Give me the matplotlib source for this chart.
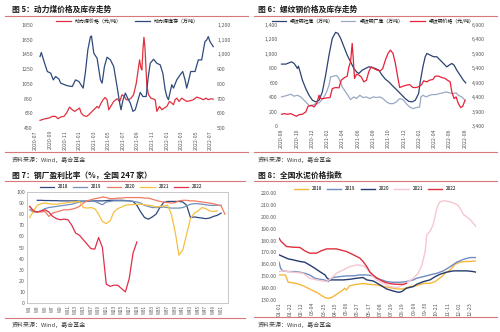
import matplotlib
matplotlib.use('Agg')
import matplotlib.pyplot as plt
from matplotlib.ticker import FuncFormatter
from matplotlib.lines import Line2D

plt.rcParams['font.family'] = ['Noto Sans CJK SC', 'DejaVu Sans']

# ---------------- data: panel 1 (动力煤) ----------------
# time in months since 2020-07
coal_price_t = [0.59,1.14,1.82,2.28,2.73,3.05,3.42,3.87,4.23,4.64,5.01,5.33,5.69,6.01,6.24,6.60,6.97,7.29,7.74,8.20,
                8.42,8.65,8.97,9.24,9.52,9.79,10.02,10.34,10.70,11.16,11.52,11.84,12.16,12.43,12.75,13.07,13.43,13.80,14.12,14.25,
                14.44,14.57,14.71,14.85,14.98,15.12,15.25,15.48,15.80,16.17,16.39,16.62,16.99,17.30,17.62,17.99,18.35,18.67,18.90,19.13,
                19.35,19.67,20.04,20.36,20.72,21.17,21.63,22.09,22.54,23.00,23.36,23.68,24.00,24.36]
coal_price = [554,572,585,608,608,576,599,608,653,734,698,676,698,721,653,617,608,630,676,721,
              743,721,789,834,865,834,698,752,811,847,811,902,879,834,834,856,902,1060,1285,1376,
              1263,1240,1511,1683,1556,1285,1014,902,856,843,834,676,743,698,721,743,811,789,766,834,
              856,811,856,834,811,820,834,870,856,834,856,834,847,843]
coal_stock_t = [0.59,0.77,1.14,1.59,2.05,2.41,2.73,3.19,3.42,4.33,5.01,5.46,5.92,6.51,6.83,7.15,7.51,7.65,7.97,8.42,
                8.88,9.11,9.43,9.79,10.25,10.70,11.16,11.52,11.70,11.98,12.30,12.61,12.98,13.34,13.66,13.98,14.34,14.71,15.16,15.39,
                15.71,16.17,16.62,17.08,17.44,17.76,17.99,18.21,18.67,18.90,19.35,19.81,20.17,20.49,20.72,20.95,21.27,21.86,22.31,22.77,
                23.22,23.45,23.68,23.91,24.36]
coal_stock = [986,1013,952,884,873,827,850,832,805,787,782,827,816,771,884,1031,1121,1125,1008,974,
              827,805,918,981,963,918,782,669,624,692,737,703,669,613,624,681,742,714,714,827,
              940,967,940,929,873,760,714,692,794,771,827,861,884,827,771,816,884,884,963,963,
              1087,1098,1121,1087,1053]
coal_xlabels = ['2020-07','2020-09','2020-11','2021-01','2021-03','2021-05','2021-07',
                '2021-09','2021-11','2022-01','2022-03','2022-05','2022-07']

# ---------------- data: panel 2 (螺纹钢) ----------------
# time in months since 2020-08
rebar_social_t = [0,0.56,1.00,1.30,1.65,1.95,2.08,2.21,2.43,2.73,3.17,3.60,4.04,4.47,4.90,5.34,5.77,6.21,6.64,7.07,
                  7.38,7.73,8.16,8.59,9.03,9.46,9.81,10.11,10.55,10.98,11.41,11.85,12.28,12.72,13.15,13.58,14.02,14.45,14.89,15.32,
                  15.76,16.19,16.62,17.06,17.49,17.93,18.14,18.49,18.79,19.01,19.44,19.88,20.31,20.75,21.18,21.61,21.92,22.27,22.57,22.92,
                  23.35,23.78,24.09]
rebar_social = [858,858,876,890,867,820,797,830,751,635,519,426,357,334,357,473,705,983,1215,1298,
                1284,1215,1099,983,890,797,751,728,774,797,820,811,797,774,705,649,612,565,519,473,
                426,380,343,334,357,450,612,820,960,1006,983,960,960,913,867,820,843,867,843,774,
                705,635,598]
rebar_factory_t = [0,0.35,0.78,1.22,1.65,2.08,2.52,2.95,3.39,3.73,4.04,4.47,4.90,5.21,5.56,5.90,6.21,6.42,6.77,7.20,
                   7.51,7.94,8.38,8.81,9.03,9.46,9.81,10.24,10.68,11.11,11.55,11.98,12.41,12.85,13.28,13.72,14.15,14.58,15.02,15.45,
                   15.89,16.32,16.75,17.19,17.62,18.06,18.23,18.49,18.92,19.36,19.79,20.23,20.66,21.09,21.53,21.96,22.40,22.83,23.13,23.57,
                   24.00]
rebar_factory = [403,413,426,440,413,426,403,357,310,273,287,310,320,357,403,473,565,681,691,700,
                 658,542,473,403,366,403,380,426,394,403,380,403,394,403,380,334,310,310,334,380,
                 366,310,264,241,255,264,403,426,403,426,436,436,450,459,473,459,450,459,426,403,
                 357]
rebar_price_t = [0,0.35,0.78,1.22,1.65,1.95,2.30,2.73,3.17,3.47,3.91,4.25,4.60,4.90,5.12,5.47,5.90,6.34,6.64,7.07,
                 7.51,7.81,8.25,8.59,8.81,9.03,9.24,9.38,9.55,9.81,10.11,10.42,10.76,11.11,11.41,11.72,12.07,12.50,12.93,13.24,
                 13.58,13.93,14.24,14.58,14.89,15.19,15.45,15.89,16.32,16.75,17.19,17.62,18.06,18.36,18.58,19.01,19.36,19.79,20.10,20.53,
                 20.96,21.40,21.70,22.05,22.27,22.57,22.83,23.13,23.44,23.70,24.00]
rebar_price = [3806,3829,3806,3829,3771,3736,3794,3806,3887,4084,4119,4061,4177,4466,4350,4350,4374,4385,4698,4733,
               4721,4988,5081,5127,5451,5625,6263,5741,5046,5196,5162,5104,4930,4988,5278,5451,5393,5335,5312,5393,
               5683,5915,6031,5915,5567,5104,4733,4779,4814,4837,4733,4733,4779,4849,4965,4930,4988,5011,5127,5127,
               5081,5046,4988,4930,4582,4350,4408,4177,4038,4084,4292]
rebar_xlabels = ['2020-08','2020-10','2020-12','2021-02','2021-04','2021-06','2021-08',
                 '2021-10','2021-12','2022-02','2022-04','2022-06','2022-08']

# ---------------- data: panel 3 (钢厂盈利比率, weekly) ----------------
profit_2018 = [92.5,92.5,92.3,92.3,92.2,92.2,92,92,92,92,92,91.8,91.8,91.8,91.8,92,92,92,92.2,92.5,
               92.5,92.5,92.5,92.3,92,91.5,88,82,77,75.5,77.5,80,86,90.5,91.5,91.5,91.5,91.5,91,88,
               77,77.5,77,76.5,76,76.5,78,79,81]            # W3..W51
profit_2019 = [84,82,82,83,85,86,86.5,87,87.5,88,88.5,89,90,91,91.5,92,92,91.5,90,88.5,
               91,91.5,92,92,92,92,92,91.5,91,90,88,87,86,86,86,86.5,86,85.5,85.5,85.5,
               86,87.5,89,89.5,89.5,89,88.5,88,88,88,88]     # W1..W51
profit_2020 = [87,82.5,82,82,82.5,78,81,82,83,84,84,84.5,85.5,87,90,92,93,94,94.5,95.5,
               95,94,94,94.5,94.5,95,95,95,95,95,94.5,94.5,93.5,92.5,91.5,91,90.5,90,90.5,92,
               92.5,92.5,92,92,91.5,91,90.5,90,89.5,88.5,87.5,80]   # W1..W52
profit_2021 = [77,83,88,89.5,90,89.5,89,89,89.5,90,90.5,91,91,91.5,86,85.5,86,85,80,73.5,
               71.5,74,82,85,86.5,88,88.5,88.5,89,89,88.5,88,87.5,86.5,87,87.5,88,80,64,43,
               48,62,76,81,83,86,85,83,82.5,83]               # W1..W50
profit_2022 = [87,83,82,83,84,82,78,76,75,75.5,75,70,63,61,57,53,49,48.5,59,50,
               17,15,16,16,13,10,22,45,55]                    # W1..W29
profit_start = {'2018': 3, '2019': 1, '2020': 1, '2021': 1, '2022': 1}
week_labels = ['W%d' % w for w in range(1, 52, 2)]

# ---------------- data: panel 4 (水泥价格指数) ----------------
# day index from 01-01
cem18_d = [0,12,17,32,45,57,70,76,86,92,98,104,110,117,123,126,132,145,157,170,182,195,207,220,232,245,257,270,282,292,298,304,310,320,329,338,348,357,368]
cem18 = [151.1,151,145,144,142,139.3,136.5,134.8,132,131.4,132,133.7,135.6,137.6,139.9,138.4,142,143.2,143.8,143.2,
         142.7,141.3,140.4,139.3,139.3,141.3,142,144,144,145.5,147.7,149.7,152.5,155.3,160.1,161.8,162.4,162.4,163]
cem19_d = [0,3,7,17,29,39,48,57,67,76,84,92,95,101,114,126,139,151,164,176,182,192,201,213,226,238,251,257,270,282,295,307,320,332,345,357,368]
cem19 = [161.8,156.7,154.5,153.9,153.9,153.4,152.5,151.1,148.3,147.4,146.9,145.5,146.9,148.9,149.7,150.3,150.3,151.1,151.1,150.3,
         148.3,146.9,145.5,144.9,144.9,145.5,146.9,148.3,149.7,151.1,152.5,154.5,158.1,161.8,164.3,165.7,165.7]
cem20_d = [0,7,17,26,39,48,57,67,76,86,90,95,107,120,132,145,157,164,176,189,201,213,223,229,238,251,257,270,282,292,301,313,326,338,351,363,368]
cem20 = [168,166.6,164.6,163.8,162.4,161.8,159.5,156.7,153.9,151.1,148.3,146.9,146.9,146.9,147.4,148.3,148.9,146.9,146,142.7,
         139.3,137.6,136.5,137,139.9,141.3,143.2,145.5,146.9,149.7,151.7,153.4,154.5,154.5,154.5,153.9,153.4]
cem21_d = [0,7,26,45,57,70,89,98,107,120,132,145,157,164,173,182,195,207,220,232,242,251,260,267,273,276,282,288,295,300,307,316,326,333,338,345,354,360,368]
cem21 = [154,154.5,153.4,152.5,148.3,146.9,145.5,148.3,152.5,155.3,158.1,159.5,158.9,156.7,151.1,146.9,144,141.3,140.4,142.7,
         145.5,148.3,152.5,159.5,170.8,184.8,187.7,193.3,207.3,212.4,213.5,212.9,211.6,210.2,207.3,201.7,198.9,196.1,191.9]
cem22_d = [0,4,14,26,39,48,57,70,79,89,98,107,114,126,139,151,157,164,170,179,189,198,207,220,232,238]
cem22 = [182,179.2,175,174.4,174.2,171.4,169.4,169.4,171.4,173,173,173,172.2,170.8,168,165.2,162.4,158.1,153.4,149.7,
         146.9,144.9,143.8,143.2,143.2,144]
cem_xlabels = ['01-01','01-22','02-12','03-04','03-25','04-15','05-06','05-27','06-17',
               '07-08','07-29','08-19','09-09','09-30','10-21','11-11','12-02','12-23']

# ---------------- figure ----------------
W, H = 500, 332
fig = plt.figure(figsize=(W / 100, H / 100), dpi=100)
fig.patch.set_facecolor('white')

TICK_C = '#595959'
TFS = 3.8
RED_RULE = '#d9777a'


def ax_at(l, t, r, b):
    return fig.add_axes([l / W, 1 - b / H, (r - l) / W, (b - t) / H])


def ftext(x, y, s, **kw):
    fig.text(x / W, 1 - y / H, s, va='center', ha='left', **kw)


def hline(x0, x1, y, color=RED_RULE, lw=0.8):
    fig.add_artist(Line2D([x0 / W, x1 / W], [1 - y / H, 1 - y / H], color=color, lw=lw,
                          transform=fig.transFigure))


def style(ax, frame=False):
    for s in ax.spines.values():
        s.set_visible(frame)
        s.set_color('#bfbfbf')
        s.set_linewidth(0.6)
    ax.tick_params(length=0, labelsize=TFS, labelcolor=TICK_C, pad=1.5)
    ax.set_facecolor('none')


comma = FuncFormatter(lambda v, p: '{:,.0f}'.format(v))
LEG = dict(loc='center', frameon=False, borderpad=0, handletextpad=0.8)

# titles, rules, sources
titles = [(12, 9, '图 5：动力煤价格及库存走势'), (258, 9, '图 6：螺纹钢价格及库存走势'),
          (12, 175, '图 7：钢厂盈利比率（%，全国 247 家）'), (258, 175, '图 8：全国水泥价格指数')]
for x, y, s in titles:
    ftext(x, y, s, fontsize=5.6, fontweight='bold', color='#1a1a1a')
for x0, x1, y in [(5, 248, 16), (254, 497, 16), (5, 245, 181), (254, 497, 181)]:
    hline(x0, x1, y)
for x0, x1, y in [(5, 248, 152), (254, 497, 152), (5, 245, 318), (254, 497, 317)]:
    hline(x0, x1, y)
src = '资料来源：Wind，嘉合基金'
for x, y in [(12, 160), (258, 160), (12, 325), (258, 325)]:
    ftext(x, y, src, fontsize=4.3, color='#404040')

# ---- panel 1 ----
ax1 = ax_at(35, 25, 215, 128)
style(ax1)
ax1b = ax1.twinx()
style(ax1b)
l1, = ax1.plot(coal_price_t, coal_price, color='#e0303e', lw=0.9)
l2, = ax1b.plot(coal_stock_t, coal_stock, color='#2f4a7a', lw=0.9)
ax1.set_ylim(450, 1850)
ax1.set_yticks(range(450, 1851, 200))
ax1b.set_ylim(500, 1200)
ax1b.set_yticks(range(500, 1201, 100))
ax1b.yaxis.set_major_formatter(comma)
ax1.set_xlim(-0.1, 24.6)
ax1.set_xticks(range(0, 25, 2))
ax1.set_xticklabels(coal_xlabels, rotation=90)
fig.legend([l1, l2], ['动力煤价格（元/吨）', '动力煤库存（万吨）'],
           bbox_to_anchor=(127 / W, 1 - 21 / H), ncol=2, fontsize=3.6,
           handlelength=3.0, columnspacing=2.6, **LEG)

# ---- panel 2 ----
ax2 = ax_at(280, 25, 470, 126)
style(ax2)
ax2b = ax2.twinx()
style(ax2b)
m1, = ax2.plot(rebar_social_t, rebar_social, color='#2c4370', lw=0.9)
m2, = ax2.plot(rebar_factory_t, rebar_factory, color='#9aa9c4', lw=0.9)
m3, = ax2b.plot(rebar_price_t, rebar_price, color='#e8203a', lw=0.9)
ax2.set_ylim(0, 1400)
ax2.set_yticks(range(0, 1401, 200))
ax2.yaxis.set_major_formatter(comma)
ax2b.set_ylim(3400, 6900)
ax2b.set_yticks(range(3400, 6901, 500))
ax2b.yaxis.set_major_formatter(comma)
ax2.set_xlim(-0.2, 24.65)
ax2.set_xticks(range(0, 25, 2))
ax2.set_xticklabels(rebar_xlabels, rotation=90)
fig.legend([m1, m2, m3], ['螺纹钢社库（万吨）', '螺纹钢厂库（万吨）', '螺纹钢价格（元/吨）'],
           bbox_to_anchor=(373 / W, 1 - 21 / H), ncol=3, fontsize=3.5,
           handlelength=3.0, columnspacing=1.4, **LEG)

# ---- panel 3 ----
ax3 = ax_at(27, 192, 228, 303)
style(ax3, frame=True)
series3 = [('2018', profit_2018, '#2a4a80'), ('2019', profit_2019, '#7090bb'),
           ('2020', profit_2020, '#f07a62'), ('2021', profit_2021, '#f5c040'),
           ('2022', profit_2022, '#e0304a')]
h3 = []
for name, vals, c in series3:
    s = profit_start[name]
    weeks = list(range(s, s + len(vals)))
    ln, = ax3.plot(weeks, vals, color=c, lw=0.9)
    h3.append(ln)
ax3.set_ylim(0, 100)
ax3.set_yticks(range(0, 101, 10))
ax3.set_xlim(0.3, 52.8)
ax3.set_xticks(range(1, 52, 2))
ax3.set_xticklabels(week_labels, rotation=90)
ax3.tick_params(axis='x', labelsize=3.3)
fig.legend(h3, [s[0] for s in series3], bbox_to_anchor=(121 / W, 1 - 187 / H),
           ncol=5, fontsize=3.4, handlelength=3.0, columnspacing=1.1, **LEG)

# ---- panel 4 ----
ax4 = ax_at(279, 193, 476, 300)
style(ax4)
series4 = [('2018', cem18_d, cem18, '#f5b83a'), ('2019', cem19_d, cem19, '#6f8cc0'),
           ('2020', cem20_d, cem20, '#253c6e'), ('2021', cem21_d, cem21, '#f7c6cf'),
           ('2022', cem22_d, cem22, '#e03040')]
h4 = []
for name, d, v, c in series4:
    ln, = ax4.plot(d, v, color=c, lw=1.0)
    h4.append(ln)
ax4.set_ylim(130, 220)
ax4.set_yticks(range(130, 221, 10))
ax4.yaxis.set_major_formatter(FuncFormatter(lambda v, p: '%.2f' % v))
ax4.set_xlim(0, 368)
ax4.set_xticks(range(0, 358, 21))
ax4.set_xticklabels(cem_xlabels, rotation=90)
fig.legend(h4, [s[0] for s in series4], bbox_to_anchor=(375 / W, 1 - 189 / H),
           ncol=5, fontsize=3.4, handlelength=3.0, columnspacing=1.1, **LEG)

fig.savefig('out.png', dpi=100, facecolor='white')
